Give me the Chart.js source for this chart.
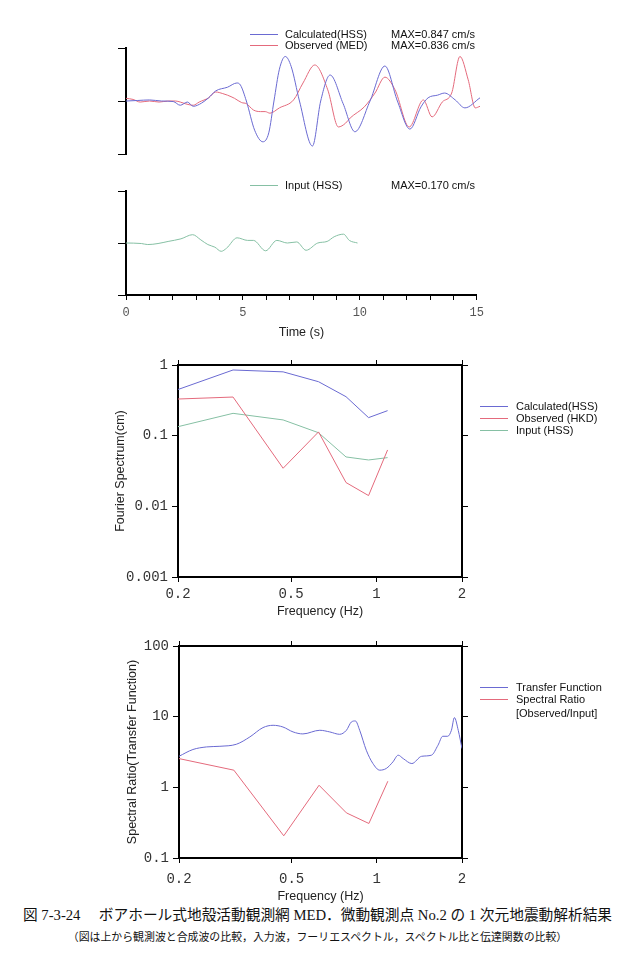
<!DOCTYPE html>
<html>
<head>
<meta charset="utf-8">
<script src="https://cdn.jsdelivr.net/npm/chart.js@4/dist/chart.umd.min.js"></script>
<style>
  body { margin: 0; background: #fff; width: 635px; height: 979px; position: relative; overflow: hidden;
         font-family: "Liberation Sans", Arial, sans-serif; }
  canvas { position: absolute; display: block; }
  .lg { position: absolute; font-size: 11px; line-height: 12px; color: #111; white-space: nowrap; }
  .cap { position: absolute; left: 0; width: 635px; text-align: center; color: #111; white-space: nowrap;
         font-family: "Liberation Serif", "Noto Sans CJK JP", serif; }
</style>
</head>
<body>
<canvas id="wave" width="390" height="140" style="left:100px;top:25px"></canvas>
<canvas id="input" width="390" height="165" style="left:100px;top:180px"></canvas>
<canvas id="spec" width="420" height="270" style="left:100px;top:352px"></canvas>
<canvas id="ratio" width="420" height="272" style="left:100px;top:633px"></canvas>

<!-- legend texts (swatches are drawn in the canvases) -->
<div class="lg" style="left:285px;top:28px">Calculated(HSS)</div>
<div class="lg" style="left:391px;top:28px">MAX=0.847 cm/s</div>
<div class="lg" style="left:285px;top:39px">Observed (MED)</div>
<div class="lg" style="left:391px;top:39px">MAX=0.836 cm/s</div>

<div class="lg" style="left:285px;top:179px">Input (HSS)</div>
<div class="lg" style="left:391px;top:179px">MAX=0.170 cm/s</div>

<div class="lg" style="left:516px;top:400px">Calculated(HSS)</div>
<div class="lg" style="left:516px;top:412px">Observed (HKD)</div>
<div class="lg" style="left:516px;top:424px">Input (HSS)</div>

<div class="lg" style="left:516px;top:681px">Transfer Function</div>
<div class="lg" style="left:516px;top:693px">Spectral Ratio</div>
<div class="lg" style="left:516px;top:707px">[Observed/Input]</div>

<div class="cap" style="top:905px;font-size:14.7px;line-height:20px">図 7-3-24　 ボアホール式地殻活動観測網 MED．微動観測点 No.2 の 1 次元地震動解析結果</div>
<div class="cap" style="top:930px;font-size:10.9px;line-height:14px">（図は上から観測波と合成波の比較，入力波，フーリエスペクトル，スペクトル比と伝達関数の比較）</div>

<script>
// waveforms (cm/s, normalised by panel)
const tCalc = [0, 0.5, 1.0, 1.5, 2.0, 2.3, 2.6, 2.85, 3.2, 3.5, 3.8, 4.3, 4.7, 4.85, 5.1, 5.45, 5.8, 6.05, 6.27, 6.5, 6.75, 7.0, 7.35, 7.9, 8.25, 8.65, 9.2, 9.7, 10.34, 10.97, 11.5, 12.03, 12.5, 12.8, 13.2, 13.5, 13.95, 14.36, 15];
const vCalc = [0, 0.01, 0.02, 0, -0.01, -0.08, -0.02, -0.1, -0.04, 0.06, 0.19, 0.26, 0.34, 0.3, 0, -0.55, -0.77, -0.6, 0, 0.6, 0.84, 0.65, 0, -0.85, 0, 0.49, -0.05, -0.58, 0, 0.66, 0, -0.53, -0.11, 0.06, 0.11, 0.15, 0.02, -0.13, 0.06];

const tObs = [0, 0.3, 0.6, 1.0, 1.4, 1.8, 2.1, 2.3, 2.5, 2.85, 3.1, 3.5, 3.8, 4.1, 4.3, 4.6, 4.9, 5.1, 5.4, 5.7, 5.9, 6.1, 6.5, 7.1, 7.5, 8.0, 8.55, 9.0, 9.3, 9.5, 10.1, 10.55, 10.97, 11.4, 12.0, 12.6, 12.97, 13.4, 13.8, 14.15, 14.5, 14.8, 15];
const vObs = [0.05, 0.03, -0.02, 0, -0.02, 0, 0, -0.02, -0.05, -0.08, -0.02, 0.06, 0.17, 0.14, 0.11, 0.05, -0.03, -0.05, -0.17, -0.2, -0.2, -0.23, -0.13, 0.02, 0.34, 0.68, 0.21, -0.49, -0.42, -0.32, -0.11, 0.15, 0.45, 0.21, -0.49, 0.02, -0.3, -0.02, 0.15, 0.84, 0.4, -0.13, -0.1];

const tInput = [0, 0.66, 0.93, 1.37, 1.8, 2.35, 2.85, 3.2, 3.5, 3.8, 4.07, 4.3, 4.75, 5.2, 5.45, 5.97, 6.45, 6.9, 7.3, 7.7, 8.2, 8.6, 8.9, 9.3, 9.55, 9.9];
const vInput = [0, -0.01, -0.03, -0.01, 0.03, 0.08, 0.16, 0.06, -0.03, -0.08, -0.16, -0.1, 0.1, 0.05, 0.05, -0.15, 0.05, 0, 0.02, -0.14, 0, 0.03, 0.12, 0.17, 0.05, 0];

// Fourier spectra (cm)
const freqs = [0.2, 0.3125, 0.469, 0.625, 0.781, 0.9375, 1.094];
const specCalc = [0.45, 0.85, 0.8, 0.58, 0.356, 0.18, 0.226];
const specObs = [0.33, 0.352, 0.0346, 0.113, 0.0217, 0.0142, 0.0628];
const specInput = [0.134, 0.207, 0.167, 0.11, 0.05, 0.0453, 0.0489];

// spectral ratio and transfer function
const ratioObs = [2.55, 1.75, 0.206, 1.07, 0.435, 0.308, 1.22];
const tfFreq = [0.2, 0.224, 0.25, 0.279, 0.319, 0.356, 0.396, 0.43, 0.466, 0.506, 0.548, 0.629, 0.682, 0.739, 0.781, 0.813, 0.84, 0.87, 0.918, 0.969, 1.024, 1.08, 1.14, 1.19, 1.24, 1.33, 1.44, 1.56, 1.645, 1.71, 1.78, 1.835, 1.88, 1.94, 2.0];
const tfVal = [2.75, 3.43, 3.73, 3.81, 4.07, 5.17, 7.0, 7.55, 7.14, 6.08, 5.7, 6.42, 6.08, 5.63, 6.42, 8.41, 8.7, 6.42, 3.35, 2.17, 1.75, 1.85, 2.29, 2.85, 2.55, 2.17, 2.75, 2.85, 3.94, 5.28, 5.28, 6.42, 9.7, 6.4, 3.54];

const timeTicks = [0, 5, 10, 15];
const freqTicks = [0.2, 0.5, 1, 2];
const specTicks = [0.001, 0.01, 0.1, 1];
const ratioTicks = [0.1, 1, 10, 100];

const BLUE = '#6a6ad2', RED = '#e46a7c', GREEN = '#86c0a4';
const pts = (xs, ys) => xs.map((x, i) => ({ x, y: ys[i] }));
const line = (data, color, smooth) => ({
  data, borderColor: color, borderWidth: 1, pointRadius: 0, fill: false,
  cubicInterpolationMode: smooth ? 'monotone' : 'default', tension: 0
});

// short legend lines, drawn on the chart canvas
const swatches = {
  id: 'swatches',
  afterDraw(chart, args, opts) {
    const ctx = chart.ctx;
    (opts.items || []).forEach(s => {
      ctx.save();
      ctx.strokeStyle = s.color;
      ctx.lineWidth = 1;
      ctx.beginPath();
      ctx.moveTo(s.x, s.y + 0.5);
      ctx.lineTo(s.x + 28, s.y + 0.5);
      ctx.stroke();
      ctx.restore();
    });
  }
};

const base = (padding, items) => ({
  responsive: false, animation: false, devicePixelRatio: 1,
  layout: { padding },
  plugins: { legend: { display: false }, tooltip: { enabled: false }, swatches: { items } }
});
const tickGrid = (len) => ({ display: true, drawOnChartArea: false, drawTicks: true, tickLength: len, color: '#000', lineWidth: 1 });
const border = { display: true, color: '#000', width: 2 };
const monoFont = (size) => ({ family: '"Liberation Mono", "Courier New", monospace', size });
const titleFont = { family: '"Liberation Sans", Arial, sans-serif', size: 12.5 };

// observed vs calculated
new Chart(document.getElementById('wave'), {
  type: 'line',
  data: { datasets: [line(pts(tCalc, vCalc), BLUE, true), line(pts(tObs, vObs), RED, true)] },
  options: {
    ...base({ top: 23, right: 10, bottom: 11, left: 0 }, [
      { x: 150, y: 9, color: BLUE }, { x: 150, y: 20, color: RED }
    ]),
    scales: {
      x: { type: 'linear', min: 0, max: 15, display: false },
      y: {
        min: -1, max: 1, ticks: { display: false, stepSize: 1 },
        grid: tickGrid(8), border,
        afterFit: s => { s.width = 26; }
      }
    }
  },
  plugins: [swatches]
});

// input wave
new Chart(document.getElementById('input'), {
  type: 'line',
  data: { datasets: [line(pts(tInput, vInput), GREEN, true)] },
  options: {
    ...base({ top: 11, right: 10, bottom: 0, left: 0 }, [{ x: 150, y: 5, color: GREEN }]),
    scales: {
      x: {
        type: 'linear', min: 0, max: 15,
        ticks: {
          stepSize: 1, autoSkip: false, maxRotation: 0, padding: 6,
          font: monoFont(12), color: '#555',
          callback: v => timeTicks.includes(v) ? String(v) : ''
        },
        grid: tickGrid(5), border,
        title: { display: true, text: 'Time (s)', font: titleFont, color: '#222', padding: { top: 0, bottom: 5 } },
        afterFit: s => { s.height = 50; }
      },
      y: {
        min: -1, max: 1, ticks: { display: false, stepSize: 1 },
        grid: tickGrid(8), border,
        afterFit: s => { s.width = 26; }
      }
    }
  },
  plugins: [swatches]
});

function logScales(yTicks, yMin, yMax, yTitle, yWidth, yTitlePad, xHeight, xTickPad, xTitlePad) {
  const xTickFix = s => { s.ticks = freqTicks.map(v => ({ value: v })); };
  const yTickFix = s => { s.ticks = yTicks.map(v => ({ value: v })); };
  return {
    x: {
      type: 'logarithmic', min: 0.2, max: 2,
      afterBuildTicks: xTickFix,
      ticks: { font: monoFont(14), color: '#333', maxRotation: 0, autoSkip: false, padding: xTickPad, callback: v => String(v) },
      grid: tickGrid(5), border,
      title: { display: true, text: 'Frequency (Hz)', font: titleFont, color: '#222', padding: { top: 0, bottom: xTitlePad } },
      afterFit: s => { s.height = xHeight; }
    },
    x2: {
      type: 'logarithmic', axis: 'x', position: 'top', min: 0.2, max: 2,
      afterBuildTicks: xTickFix,
      ticks: { display: false }, grid: tickGrid(5), border,
      afterFit: s => { s.height = 6; }
    },
    y: {
      type: 'logarithmic', min: yMin, max: yMax,
      afterBuildTicks: yTickFix,
      ticks: { font: monoFont(14), color: '#333', padding: 4, callback: v => String(v) },
      grid: tickGrid(6), border,
      title: { display: true, text: yTitle, font: titleFont, color: '#222', padding: { top: yTitlePad, bottom: 0 } },
      afterFit: s => { s.width = yWidth; }
    },
    y2: {
      type: 'logarithmic', axis: 'y', position: 'right', min: yMin, max: yMax,
      afterBuildTicks: yTickFix,
      ticks: { display: false }, grid: tickGrid(6), border,
      afterFit: s => { s.width = 8; }
    }
  };
}

// Fourier spectra
new Chart(document.getElementById('spec'), {
  type: 'line',
  data: {
    datasets: [
      line(pts(freqs, specCalc), BLUE, false),
      line(pts(freqs, specObs), RED, false),
      line(pts(freqs, specInput), GREEN, false)
    ]
  },
  options: {
    ...base({ top: 7, right: 50, bottom: 0, left: 0 }, [
      { x: 380, y: 54, color: BLUE }, { x: 380, y: 66, color: RED }, { x: 380, y: 78, color: GREEN }
    ]),
    scales: logScales(specTicks, 0.001, 1, 'Fourier Spectrum(cm)', 78, 13.5, 45, 4, 2.5)
  },
  plugins: [swatches]
});

// spectral ratio / transfer function
new Chart(document.getElementById('ratio'), {
  type: 'line',
  data: {
    datasets: [
      line(pts(tfFreq, tfVal), BLUE, true),
      line(pts(freqs, ratioObs), RED, false)
    ]
  },
  options: {
    ...base({ top: 7, right: 50, bottom: 0, left: 0 }, [
      { x: 380, y: 54, color: BLUE }, { x: 380, y: 66, color: RED }
    ]),
    scales: logScales(ratioTicks, 0.1, 100, 'Spectral Ratio(Transfer Function)', 79, 25.5, 47, 8, 1)
  },
  plugins: [swatches]
});
</script>
</body>
</html>
